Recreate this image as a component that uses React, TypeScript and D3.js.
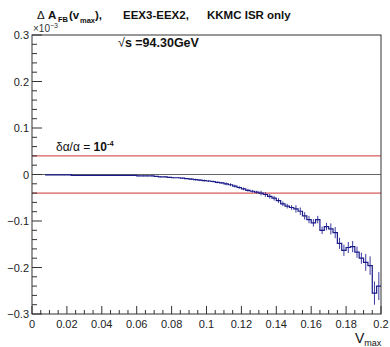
import React from "react";
import * as d3 from "d3";

const binStart = 0.0075;
const binWidth = 0.0025;
// Delta A_FB in units of 1e-3
const values = [
  -0.001, -0.001, -0.001, -0.001, -0.001, -0.001, -0.002, -0.002, -0.002, -0.002,
  -0.002, -0.002, -0.002, -0.002, -0.002, -0.002, -0.002, -0.002, -0.002, -0.002,
  -0.002, -0.003, -0.003, -0.003, -0.003, -0.004, -0.005, -0.005, -0.006, -0.007,
  -0.007, -0.008, -0.009, -0.010, -0.011, -0.012, -0.013, -0.014, -0.015, -0.017,
  -0.018, -0.020, -0.022, -0.025, -0.028, -0.031, -0.034, -0.036, -0.038, -0.040,
  -0.043, -0.047, -0.051, -0.056, -0.063, -0.068, -0.071, -0.074, -0.079, -0.089,
  -0.097, -0.104, -0.097, -0.120, -0.112, -0.117, -0.125, -0.148, -0.163, -0.157,
  -0.155, -0.167, -0.180, -0.189, -0.196, -0.255, -0.240,
];
const errors = [
  0.0005, 0.0005, 0.0005, 0.0005, 0.0005, 0.0005, 0.0005, 0.0005, 0.0005, 0.0005,
  0.0005, 0.0005, 0.0005, 0.0005, 0.0005, 0.0005, 0.0005, 0.0005, 0.0005, 0.0005,
  0.0005, 0.001, 0.001, 0.001, 0.001, 0.001, 0.001, 0.001, 0.001, 0.001,
  0.001, 0.001, 0.001, 0.002, 0.002, 0.002, 0.002, 0.002, 0.002, 0.002,
  0.002, 0.003, 0.003, 0.003, 0.003, 0.003, 0.003, 0.003, 0.003, 0.005,
  0.005, 0.005, 0.005, 0.005, 0.005, 0.005, 0.005, 0.008, 0.008, 0.008,
  0.008, 0.008, 0.008, 0.008, 0.008, 0.012, 0.012, 0.012, 0.012, 0.012,
  0.012, 0.012, 0.012, 0.018, 0.02, 0.025, 0.03,
];
const refLines = [0.04, -0.04];
const xMajorTicks = [0, 0.02, 0.04, 0.06, 0.08, 0.1, 0.12, 0.14, 0.16, 0.18, 0.2];
const xTickLabels = ["0", "0.02", "0.04", "0.06", "0.08", "0.1", "0.12", "0.14", "0.16", "0.18", "0.2"];
const yMajorTicks = [-0.3, -0.2, -0.1, 0, 0.1, 0.2, 0.3];
const yTickLabels = ["\u22120.3", "\u22120.2", "\u22120.1", "0", "0.1", "0.2", "0.3"];

const FONT = "'Liberation Sans', Arial, Helvetica, sans-serif";

export default function App() {
  const x = d3.scaleLinear().domain([0, 0.2]).range([32, 381]);
  const y = d3.scaleLinear().domain([-0.3, 0.3]).range([314, 35]);

  const bins = values.map((v, i) => {
    const lo = binStart + i * binWidth;
    return { lo, hi: lo + binWidth, v, e: errors[i] };
  });
  const pts: [number, number][] = [];
  bins.forEach((b) => {
    pts.push([b.lo, b.v]);
    pts.push([b.hi, b.v]);
  });
  const line = d3
    .line<[number, number]>()
    .x((d) => x(d[0]))
    .y((d) => y(d[1]));

  const xMinor = d3.range(0, 81).map((i) => i * 0.0025).filter((_, i) => i % 8 !== 0 && i % 2 === 0);
  const yMinor = d3.range(-15, 16).map((i) => i * 0.02).filter((_, i) => (i + 15) % 5 !== 0);

  const axisColor = "#333";

  return (
    <svg width={390} height={347} style={{ position: "absolute", left: 0, top: 0, background: "#fff" }} fontFamily={FONT}>
      {/* title */}
      <text x={37} y={19} fontSize={11.5} fill="#111">Δ</text>
      <text x={48} y={19} fontSize={11.5} fontWeight="bold" fill="#111">A</text>
      <text x={58} y={22} fontSize={7.5} fontWeight="bold" fill="#111">FB</text>
      <text x={69} y={19} fontSize={11.5} fontWeight="bold" fill="#111">(v</text>
      <text x={80} y={23} fontSize={7.5} fontWeight="bold" fill="#111">max</text>
      <text x={95} y={19} fontSize={11.5} fontWeight="bold" fill="#111">),</text>
      <text x={123} y={19} fontSize={11.5} fontWeight="bold" fill="#111">EEX3-EEX2,</text>
      <text x={207} y={19} fontSize={11.5} fontWeight="bold" fill="#111">KKMC ISR only</text>
      {/* x10^-3 */}
      <text x={33} y={32} fontSize={10} fill="#333">
        ×10<tspan fontSize={7} dy={-4}>−3</tspan>
      </text>

      {/* reference lines */}
      {refLines.map((r) => (
        <line key={r} x1={x(0)} x2={x(0.2)} y1={y(r)} y2={y(r)} stroke="#cc3333" strokeWidth={1} />
      ))}
      <line x1={x(0)} x2={x(0.2)} y1={y(0)} y2={y(0)} stroke="#666" strokeWidth={1} />

      {/* error bars */}
      {bins.map((b, i) => (
        <line
          key={i}
          x1={x(b.lo + binWidth / 2)}
          x2={x(b.lo + binWidth / 2)}
          y1={y(b.v - b.e)}
          y2={y(b.v + b.e)}
          stroke="#3a3aa0"
          strokeWidth={1}
        />
      ))}
      <path d={line(pts) || ""} fill="none" stroke="#1a1a88" strokeWidth={1.2} />

      {/* frame */}
      <rect x={x(0)} y={y(0.3)} width={x(0.2) - x(0)} height={y(-0.3) - y(0.3)} fill="none" stroke={axisColor} strokeWidth={1} />

      {/* x ticks */}
      {xMajorTicks.map((t) => (
        <line key={"xm" + t} x1={x(t)} x2={x(t)} y1={y(-0.3)} y2={y(-0.3) - 8} stroke={axisColor} />
      ))}
      {xMinor.map((t) => (
        <line key={"xn" + t} x1={x(t)} x2={x(t)} y1={y(-0.3)} y2={y(-0.3) - 4} stroke={axisColor} />
      ))}
      {xMajorTicks.map((t, i) => (
        <text key={"xl" + t} x={x(t)} y={328} fontSize={11} textAnchor="middle" fill="#222">
          {xTickLabels[i]}
        </text>
      ))}

      {/* y ticks */}
      {yMajorTicks.map((t) => (
        <line key={"ym" + t} x1={x(0)} x2={x(0) + 10} y1={y(t)} y2={y(t)} stroke={axisColor} />
      ))}
      {yMinor.map((t) => (
        <line key={"yn" + t} x1={x(0)} x2={x(0) + 5} y1={y(t)} y2={y(t)} stroke={axisColor} />
      ))}
      {yMajorTicks.map((t, i) => (
        <text key={"yl" + t} x={29} y={y(t) + 4} fontSize={11} textAnchor="end" fill="#222">
          {yTickLabels[i]}
        </text>
      ))}

      {/* annotations */}
      <text x={118} y={47} fontSize={12.5} fontWeight="bold" fill="#111">
        <tspan fontWeight="normal">√</tspan>s =94.30GeV
      </text>
      <text x={56} y={151} fontSize={12} fill="#111">
        δα/α = <tspan fontWeight="bold">10</tspan>
        <tspan fontSize={7.5} dy={-5} fontWeight="bold">-4</tspan>
      </text>
      <text x={355} y={343} fontSize={14} fill="#111">
        V<tspan fontSize={9} dy={3}>max</tspan>
      </text>
    </svg>
  );
}
